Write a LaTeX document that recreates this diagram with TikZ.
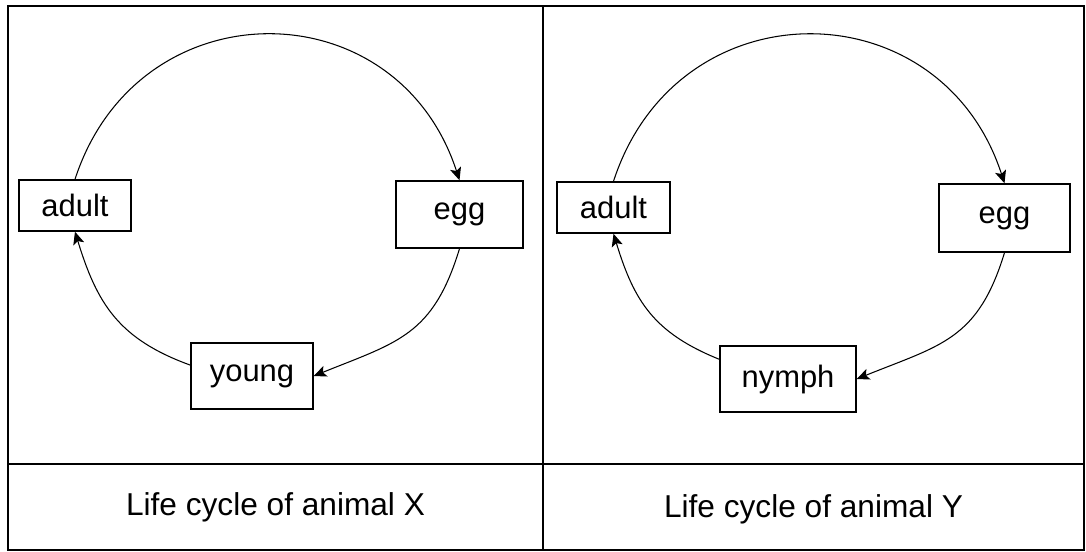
\documentclass[tikz,border=0pt]{standalone}
\usepackage{fontspec}
\setmainfont{Liberation Sans}
\usetikzlibrary{arrows.meta}

\begin{document}
\begin{tikzpicture}[x=0.025cm, y=-0.025cm,
    frame/.style={line width=1pt},
    stage/.style={draw, line width=1pt, inner sep=0pt, font=\fontsize{22}{26}\selectfont},
    caption/.style={font=\fontsize{22.5}{26}\selectfont},
    link/.style={line width=0.75pt, -{Stealth[length=9pt, width=8pt, inset=2pt]}}]
    \useasboundingbox (0,0) rectangle (1086,552);
    \draw[frame] (8,6) rectangle (1084,550);
    \draw[frame] (543,6) -- (543,550);
    \draw[frame] (8,464) -- (1084,464);

    \node[stage, minimum width=2.8cm, minimum height=1.275cm] (adultX) at (75,205.5) {adult};
    \node[stage, minimum width=3.175cm, minimum height=1.675cm] (eggX) at (459.5,214.5) {egg};
    \node[stage, minimum width=3.05cm, minimum height=1.65cm] (youngX) at (252,376) {young};
    \node[caption] (capX) at (275.5,507) {Life cycle of animal X};
    \draw[link] (adultX.north) to[out=72, in=108, looseness=1.35] (eggX.north);
    \draw[link] (eggX.south) to[out=-107, in=22, looseness=1.2] (youngX.east);
    \draw[link] (youngX.170) to[out=160, in=-73, looseness=1.1] (adultX.south);

    \node[stage, minimum width=2.825cm, minimum height=1.275cm] (adultY) at (613.5,207.5) {adult};
    \node[stage, minimum width=3.275cm, minimum height=1.7cm] (eggY) at (1004.5,218) {egg};
    \node[stage, minimum width=3.4cm, minimum height=1.65cm] (nymphY) at (788,379) {nymph};
    \node[caption] (capY) at (813.5,509) {Life cycle of animal Y};
    \draw[link] (adultY.north) to[out=72, in=108, looseness=1.35] (eggY.north);
    \draw[link] (eggY.south) to[out=-107, in=22, looseness=1.2] (nymphY.east);
    \draw[link] (nymphY.164) to[out=158, in=-73, looseness=1.1] (adultY.south);
\end{tikzpicture}
\end{document}
